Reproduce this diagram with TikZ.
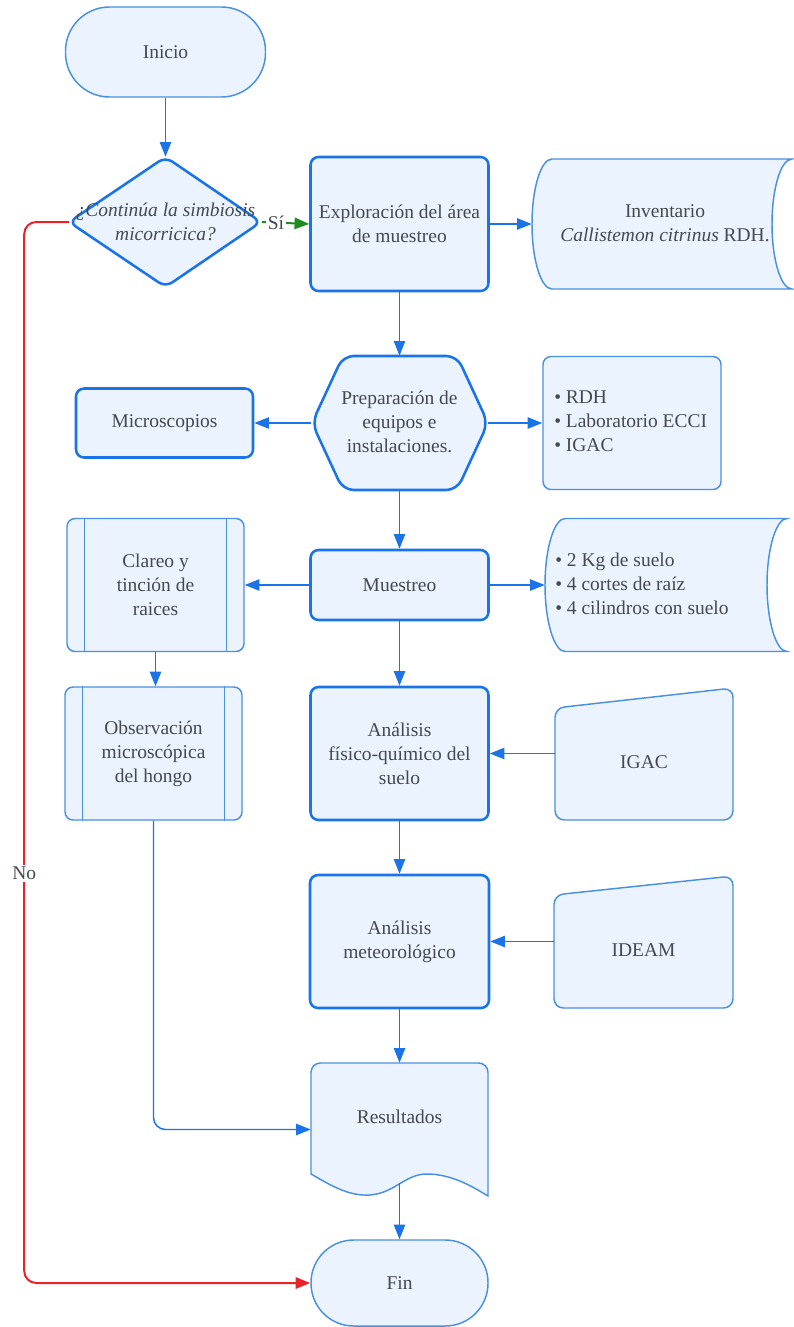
\documentclass[tikz,border=0pt]{standalone}
\usepackage{fontspec}
\setmainfont{Liberation Serif}
\usetikzlibrary{arrows.meta,backgrounds,calc}
\definecolor{bd}{HTML}{1A73E8}
\definecolor{bdl}{HTML}{4A90E2}
\definecolor{fl}{HTML}{EBF4FE}
\definecolor{tx}{HTML}{45494F}
\definecolor{rd}{HTML}{E8232A}
\definecolor{gr}{HTML}{1E8C1E}
\begin{document}
\begin{tikzpicture}[x=0.75pt,y=-0.75pt,
  font=\fontsize{14.6}{18}\selectfont,
  txt/.style={text=tx, align=center, inner sep=0pt},
  ghost/.style={rectangle, inner sep=0pt, text=tx, align=center},
  thickb/.style={rectangle, rounded corners=6pt, draw=bd, line width=1.9pt, fill=fl, inner sep=0pt, text=tx, align=center},
  thinb/.style={rectangle, rounded corners=6pt, draw=bdl, line width=1.1pt, fill=fl, inner sep=0pt, text=tx, align=center},
  thickp/.style={draw=bd, line width=1.9pt, fill=fl},
  thinp/.style={draw=bdl, line width=1.1pt, fill=fl},
  conn/.style={draw=bd, line width=1.1pt, -{Triangle[length=11pt,width=8.5pt]}},
  connR/.style={draw=rd, line width=1.5pt, rounded corners=9pt, -{Triangle[length=11pt,width=8.5pt]}},
  connG/.style={draw=gr, line width=1.5pt, -{Triangle[length=11pt,width=8.5pt]}},
  lbl/.style={fill=white, text=tx, inner sep=1.5pt}
]
\useasboundingbox (0,0) rectangle (793,1327);

% ---------- nodes ----------
\node[thinb, rounded corners=33pt, minimum width=150pt, minimum height=67.5pt] (ini) at (165.5,52) {Inicio};
\node[ghost, minimum width=144pt, minimum height=97.5pt] (dec) at (165.5,222) {\itshape ¿Continúa la simbiosis\\\itshape micorricica?};
\node[thickb, minimum width=133.5pt, minimum height=100.5pt] (exp) at (399.5,224) {Exploración del área\\de muestreo};
\node[ghost, minimum width=195pt, minimum height=97.5pt] (inv) at (662,224) {};
\node[txt] (invT) at (665,223.5) {Inventario\\\textit{Callistemon citrinus} RDH.};
\node[ghost, minimum width=132pt, minimum height=100.5pt] (prep) at (399.5,423) {};
\node[txt] (prepT) at (399.5,421.5) {Preparación de\\equipos e\\instalaciones.};
\node[thickb, minimum width=132.75pt, minimum height=51.75pt] (mic) at (164.5,423) {Microscopios};
\node[thinb, minimum width=133.5pt, minimum height=99.75pt] (rdh) at (632,423) {};
\node[txt, anchor=west, align=left] (rdhT) at (554,421) {• RDH\\• Laboratorio ECCI\\• IGAC};
\node[thickb, minimum width=133.5pt, minimum height=52.5pt] (mue) at (399.5,585) {Muestreo};
\node[thinb, minimum width=132.75pt, minimum height=99.75pt] (cla) at (155.5,585) {Clareo y\\tinción de\\raices};
\node[ghost, minimum width=181.5pt, minimum height=99.75pt] (bul) at (666,585) {};
\node[txt, anchor=west, align=left] (bulT) at (555,584) {• 2 Kg de suelo\\• 4 cortes de raíz\\• 4 cilindros con suelo};
\node[thinb, minimum width=132.75pt, minimum height=99.75pt] (obs) at (153.5,753.5) {Observación\\microscópica\\del hongo};
\node[thickb, minimum width=133.5pt, minimum height=99.75pt] (afq) at (399.5,753.5) {Análisis\\físico-químico del\\suelo};
\node[ghost, minimum width=133.5pt, minimum height=99pt] (igac) at (644,753.5) {};
\node[txt] (igacT) at (644,762) {IGAC};
\node[thickb, minimum width=134.25pt, minimum height=99.75pt] (met) at (399.5,941.5) {Análisis\\meteorológico};
\node[ghost, minimum width=134.25pt, minimum height=99pt] (ide) at (643.5,941.5) {};
\node[txt] (ideT) at (643.5,950) {IDEAM};
\node[ghost, minimum width=132.75pt, minimum height=99.75pt] (res) at (399.5,1129.5) {};
\node[txt] (resT) at (399.5,1117) {Resultados};
\coordinate (resb) at (399.5,1183);
\node[thinb, rounded corners=32pt, minimum width=132.75pt, minimum height=64.5pt] (fin) at (399.5,1283) {Fin};

% ---------- custom shapes ----------
\begin{scope}[on background layer]
  % decision diamond
  \draw[thickp, rounded corners=6pt] (165.5,157) -- (261,222) -- (165.5,287) -- (69,222) -- cycle;
  % stored data: inventario
  \draw[thinp] (552,159) -- (792,159)
     .. controls (781,159) and (772,188) .. (772,224)
     .. controls (772,260) and (781,289) .. (792,289)
     -- (552,289)
     .. controls (541,289) and (532,260) .. (532,224)
     .. controls (532,188) and (541,159) .. (552,159) -- cycle;
  % hexagon
  \draw[thickp, rounded corners=8pt] (312,423) -- (343,356) -- (457,356) -- (488,423) -- (457,490) -- (343,490) -- cycle;
  % stored data: bullets
  \draw[thinp] (565,518.5) -- (787,518.5)
     .. controls (776,518.5) and (767,549) .. (767,585)
     .. controls (767,621) and (776,651.5) .. (787,651.5)
     -- (565,651.5)
     .. controls (554,651.5) and (545,621) .. (545,585)
     .. controls (545,549) and (554,518.5) .. (565,518.5) -- cycle;
  % manual inputs
  \draw[thinp, rounded corners=7pt] (555,708) -- (733,688) -- (733,820) -- (555,820) -- cycle;
  \draw[thinp, rounded corners=7pt] (554,895) -- (733,876) -- (733,1008) -- (554,1008) -- cycle;
  % document
  \draw[thinp] (311,1174) [rounded corners=7pt] -- (311,1063) -- (488,1063) [sharp corners] -- (488,1196)
     .. controls (470,1185) and (450,1174) .. (427,1174)
     .. controls (405,1174) and (395,1193) .. (370,1195)
     .. controls (350,1196) and (335,1188) .. (311,1174) -- cycle;
\end{scope}

% predefined-process inner lines
\draw[bdl, line width=1.1pt] ($(cla.north west)+(18,0)$) -- ($(cla.south west)+(18,0)$);
\draw[bdl, line width=1.1pt] ($(cla.north east)+(-18,0)$) -- ($(cla.south east)+(-18,0)$);
\draw[bdl, line width=1.1pt] ($(obs.north west)+(18,0)$) -- ($(obs.south west)+(18,0)$);
\draw[bdl, line width=1.1pt] ($(obs.north east)+(-18,0)$) -- ($(obs.south east)+(-18,0)$);

% ---------- connectors ----------
\draw[conn] (ini.south) -- (dec.north);
\draw[connG] (dec.east) -- node[lbl, pos=0.3] {Sí} (exp.west);
\draw[connR] (dec.west) -- ++(-45,0) |- node[lbl, pos=0.307] {No} (fin.west);
\draw[conn] (exp.east) -- (inv.west);
\draw[conn] (exp.south) -- (prep.north);
\draw[conn] (prep.west) -- (mic.east);
\draw[conn] (prep.east) -- (rdh.west);
\draw[conn] (prep.south) -- (mue.north);
\draw[conn] (mue.west) -- (cla.east);
\draw[conn] (mue.east) -- (bul.west);
\draw[conn] (mue.south) -- (afq.north);
\draw[conn] (cla.south) -- (cla.south |- obs.north);
\draw[conn] (igac.west) -- (afq.east);
\draw[conn] (afq.south) -- (met.north);
\draw[conn] (ide.west) -- (met.east);
\draw[conn] (met.south) -- (res.north);
\draw[conn, rounded corners=9pt] (obs.south) |- (res.west);
\draw[conn] (resb) -- (fin.north);
\end{tikzpicture}
\end{document}
